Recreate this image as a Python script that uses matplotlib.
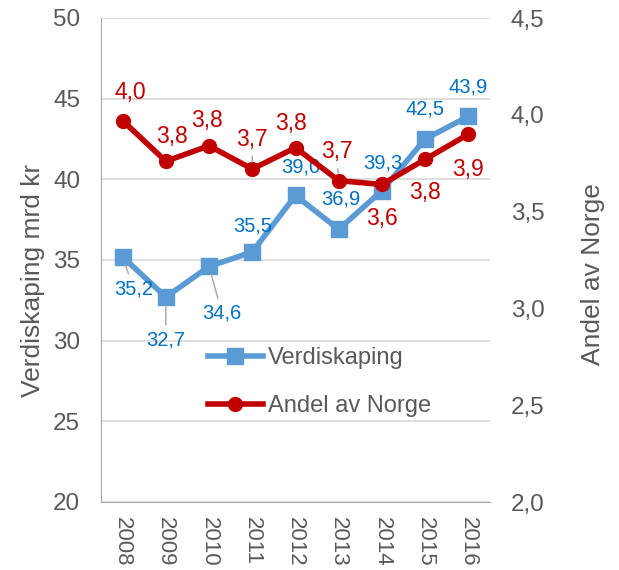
import numpy as np
import matplotlib
matplotlib.use('Agg')
import matplotlib.pyplot as plt

plt.rcParams['font.family'] = ['Liberation Sans', 'DejaVu Sans']

years = ['2008', '2009', '2010', '2011', '2012', '2013', '2014', '2015', '2016']
verdiskaping = [35.2, 32.7, 34.6, 35.5, 39.0, 36.9, 39.3, 42.5, 43.9]
andel = [3.97, 3.76, 3.84, 3.72, 3.83, 3.66, 3.64, 3.77, 3.90]
andel_labels = ['4,0', '3,8', '3,8', '3,7', '3,8', '3,7', '3,6', '3,8', '3,9']

# label offsets in pixels (dx, dy), and whether a leader line is drawn
blue_off = [(11, -32), (0, -43), (13, -47), (0, 26), (5, 28), (2, 30), (1, 28), (0, 30), (0, 29)]
blue_lead = [True, True, True, False, False, False, False, False, False]
red_off = [(8, 28), (6, 25), (-2, 25), (0, 30), (-5, 24), (-2, 29), (0, -34), (0, -33), (0, -35)]
red_lead = [False, False, False, True, False, True, False, False, False]

blue = '#5B9BD5'
blue_txt = '#0070C0'
red = '#C00000'
grey = '#595959'

fig = plt.figure(figsize=(6.19, 5.70), dpi=100)
ax = fig.add_axes([101/619, 1-502/570, 389/619, 484/570])
ax2 = ax.twinx()
x = np.arange(len(years))

l1, = ax.plot(x, verdiskaping, color=blue, lw=4, marker='s', ms=12, label='Verdiskaping')
l2, = ax2.plot(x, andel, color=red, lw=4, marker='o', ms=10, label='Andel av Norge')

ax.set_ylim(20, 50)
ax2.set_ylim(2.0, 4.5)
ax.set_xlim(-0.5, len(years) - 0.5)
ax.set_yticks(np.arange(20, 51, 5))
ax2.set_yticks(np.arange(2.0, 4.51, 0.5))
ax2.set_yticklabels([f'{v:.1f}'.replace('.', ',') for v in np.arange(2.0, 4.51, 0.5)])
ax.set_xticks(x)
ax.set_xticklabels(years, rotation=270)

ax.grid(axis='y', color='#D9D9D9', lw=1.2)
ax.set_axisbelow(True)
for a in (ax, ax2):
    for s in ('top', 'right'):
        a.spines[s].set_visible(False)
    a.tick_params(length=0, labelsize=17.5, colors=grey)
ax2.spines['left'].set_visible(False)
ax2.spines['bottom'].set_visible(False)
ax.spines['left'].set_color('#A6A6A6')
ax.spines['bottom'].set_color('#A6A6A6')
ax.tick_params(axis='y', pad=15)
ax.tick_params(axis='x', pad=11, labelsize=16)
ax2.tick_params(axis='y', pad=15)

for i, v in enumerate(verdiskaping):
    dx, dy = blue_off[i]
    ap = dict(arrowstyle='-', color='#A6A6A6', lw=1, shrinkA=2, shrinkB=6) if blue_lead[i] else None
    ax.annotate(f'{v:.1f}'.replace('.', ','), (x[i], v), xytext=(dx, dy),
                textcoords='offset pixels', ha='center', va='center',
                color=blue_txt, fontsize=14.5, arrowprops=ap)

for i, v in enumerate(andel):
    dx, dy = red_off[i]
    ap = dict(arrowstyle='-', color='#A6A6A6', lw=1, shrinkA=2, shrinkB=5) if red_lead[i] else None
    ax2.annotate(andel_labels[i], (x[i], v), xytext=(dx, dy),
                 textcoords='offset pixels', ha='center', va='center',
                 color=red, fontsize=16.5, arrowprops=ap)

fig.text(33/619, 1-280/570, 'Verdiskaping mrd kr', rotation=90, ha='center', va='center',
         fontsize=19, color=grey)
fig.text(593/619, 1-274/570, 'Andel av Norge', rotation=90, ha='center', va='center',
         fontsize=19, color=grey)

ax.legend(handles=[l1, l2], loc='center left', bbox_to_anchor=(0.275, 0.248),
          frameon=False, fontsize=17, labelcolor=grey, handlelength=2.33,
          handletextpad=0.2, labelspacing=1.1, borderpad=0, borderaxespad=0)

fig.savefig('out.png', dpi=100)
